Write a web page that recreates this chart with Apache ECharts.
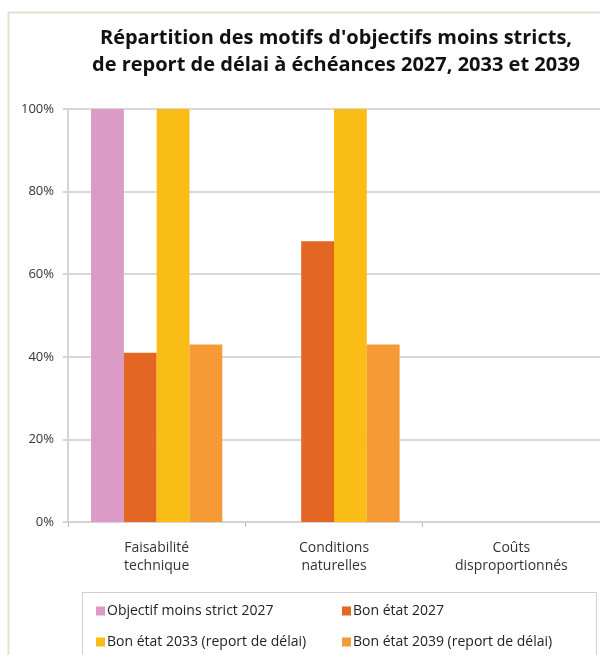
<!DOCTYPE html>
<html><head><meta charset="utf-8">
<script src="https://cdn.jsdelivr.net/npm/echarts@6/dist/echarts.min.js"></script>
<style>html,body{margin:0;padding:0;background:#fff}#c{width:600px;height:655px}</style>
</head><body><div id="c"></div>
<script>
const categories = ['Faisabilité\ntechnique', 'Conditions\nnaturelles', 'Coûts\ndisproportionnés'];
const seriesNames = ['Objectif moins strict 2027', 'Bon état 2027', 'Bon état 2033 (report de délai)', 'Bon état 2039 (report de délai)'];
const objectifMoinsStrict2027 = [100, 0, 0];
const bonEtat2027 = [41, 68, 0];
const bonEtat2033 = [100, 100, 0];
const bonEtat2039 = [43, 43, 0];
const yTicks = [0, 20, 40, 60, 80, 100];
const colors = ['#DB9BC6', '#E36722', '#F9BD16', '#F59A35'];
const values = [objectifMoinsStrict2027, bonEtat2027, bonEtat2033, bonEtat2039];

const chart = echarts.init(document.getElementById('c'), null, {renderer: 'canvas'});
const font = '"Open Sans", sans-serif';
chart.setOption({
  animation: false,
  backgroundColor: '#fff',
  title: {
    text: 'Répartition des motifs d\'objectifs moins stricts,\nde report de délai à échéances 2027, 2033 et 2039',
    left: 331, top: 20, textAlign: 'center',
    textStyle: {fontFamily: font, fontWeight: 'bold', fontSize: 20, color: '#111', lineHeight: 27}
  },
  graphic: [
    {type: 'rect', shape: {x: 8.5, y: 12.5, width: 700, height: 700}, style: {fill: 'none', stroke: '#E6E1D3', lineWidth: 2}, z: 0},
    {type: 'rect', shape: {x: 82.5, y: 592.5, width: 514, height: 100}, style: {fill: 'none', stroke: '#D0D0D0', lineWidth: 1}, z: 0}
  ],
  legend: [
    {data: [seriesNames[0], seriesNames[2]], orient: 'vertical', left: 91, top: 599, itemWidth: 9, itemHeight: 9, itemGap: 17, icon: 'rect',
     textStyle: {fontFamily: font, fontSize: 14, color: '#222', padding: [0,0,0,-3]}},
    {data: [seriesNames[1], seriesNames[3]], orient: 'vertical', left: 337, top: 599, itemWidth: 9, itemHeight: 9, itemGap: 17, icon: 'rect',
     textStyle: {fontFamily: font, fontSize: 14, color: '#222', padding: [0,0,0,-3]}}
  ],
  grid: {left: 68, right: -8, top: 109, bottom: 133, containLabel: false},
  xAxis: {
    type: 'category', data: categories,
    axisLine: {lineStyle: {color: '#D4D4D4', width: 2}},
    axisTick: {show: true, length: 5, lineStyle: {color: '#BDBDBD'}},
    axisLabel: {fontFamily: font, fontSize: 14, color: '#333', margin: 17, lineHeight: 18, interval: 0}
  },
  yAxis: {
    type: 'value', min: 0, max: 100, interval: 20,
    axisLine: {show: true, lineStyle: {color: '#D4D4D4', width: 2}},
    axisTick: {show: true, length: 5, lineStyle: {color: '#D4D4D4', width: 2}},
    splitLine: {lineStyle: {color: '#D9D9D9', width: 2}},
    axisLabel: {fontFamily: font, fontSize: 13, color: '#333', margin: 14, formatter: v => yTicks.includes(v) ? v + '%' : ''}
  },
  series: values.map((d, i) => ({
    name: seriesNames[i], type: 'bar', data: d,
    barGap: '0%', barCategoryGap: '26%',
    itemStyle: {color: colors[i]}
  }))
});
</script></body></html>
